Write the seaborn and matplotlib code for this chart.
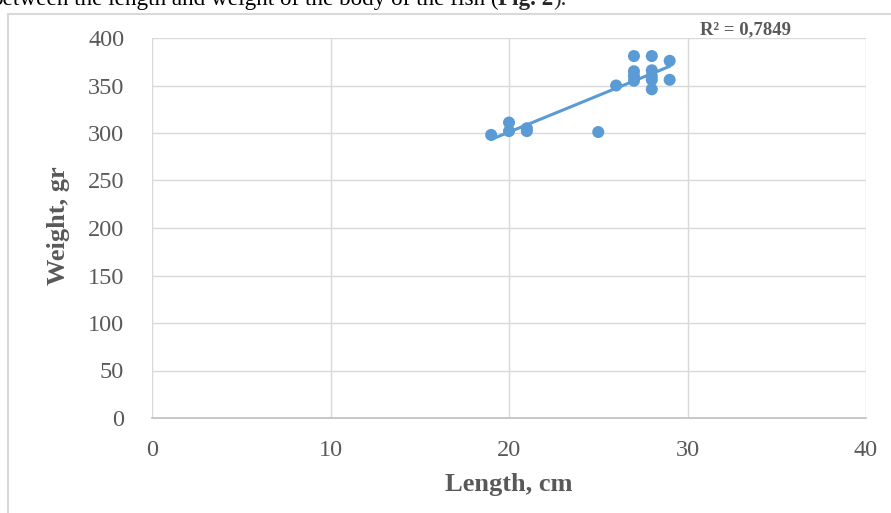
import numpy as np
import pandas as pd
import matplotlib
matplotlib.use("Agg")
import matplotlib.pyplot as plt
from matplotlib.patches import Rectangle
import seaborn as sns

length_cm = [19, 20, 20, 21, 21, 25, 26, 27, 27, 27, 27, 28, 28, 28, 28, 28, 29, 29]
weight_gr = [298, 311, 302, 302, 305, 301, 350, 381, 365, 360, 355, 381, 366, 360, 356, 346, 376, 356]
x_ticks = [0, 10, 20, 30, 40]
y_ticks = [0, 50, 100, 150, 200, 250, 300, 350, 400]
r2_text = "R² = 0,7849"

df = pd.DataFrame({"Length": length_cm, "Weight": weight_gr})

sns.set_theme(style="white")
plt.rcParams['font.family'] = ['Liberation Serif', 'DejaVu Serif']

fig = plt.figure(figsize=(8.91, 5.13), dpi=100)
W, H = 891, 513
ax = fig.add_axes([152 / W, 1 - 418 / H, (866 - 152) / W, (418 - 38) / H])

blue = "#5B9BD5"
grey = "#595959"

sns.regplot(data=df, x="Length", y="Weight", scatter=False, ci=None, ax=ax,
            line_kws={"color": blue, "lw": 2.2})
sns.scatterplot(data=df, x="Length", y="Weight", ax=ax, color=blue, s=75,
                edgecolor="none", zorder=3)

ax.set_xlim(0, 40)
ax.set_ylim(0, 400)
ax.set_xticks(x_ticks)
ax.set_yticks(y_ticks)
ax.grid(True, color="#d9d9d9", lw=1)
ax.set_axisbelow(True)
for s in ["top", "right", "left"]:
    ax.spines[s].set_visible(False)
ax.spines["bottom"].set_color("#bfbfbf")
ax.spines["bottom"].set_linewidth(1.2)
ax.tick_params(axis="both", length=0, labelsize=17.5, colors=grey)
ax.tick_params(axis="x", pad=16)
ax.tick_params(axis="y", pad=20)
ax.set_xlabel("Length, cm", fontsize=19, fontweight="bold", color=grey)
ax.xaxis.set_label_coords(0.5, -(484 - 418) / (418 - 38))
ax.xaxis.label.set_va("center")
ax.set_ylabel("Weight, gr", fontsize=19, fontweight="bold", color=grey)
ax.yaxis.set_label_coords(-(152 - 58) / (866 - 152), (418 - 226) / (418 - 38))
ax.yaxis.label.set_va("center")

fig.text(746 / W, 1 - 30 / H, r2_text, fontsize=13.5, fontweight="bold",
         color=grey, ha="center", va="center")

# outer chart frame
fig.patches.append(Rectangle((8 / W, -0.1), 1.2, 1 - 14 / H + 0.1,
                             transform=fig.transFigure, fill=False,
                             edgecolor="#d9d9d9", lw=1.5))

# caption text from document, partly cut off at top
fig.canvas.draw()
r = fig.canvas.get_renderer()
cap_fs = 24
probe = fig.text(0, 0, "between the length and weight of the body of the fish (Fig. 2).",
                 fontsize=cap_fs)
wpx = probe.get_window_extent(r).width
probe.remove()
cap_fs = cap_fs * 575 / wpx
y_cap = 1 - 5 / H
t1 = fig.text(-9 / W, y_cap, "between the length and weight of the body of the fish (",
              fontsize=cap_fs, color="black", ha="left", va="baseline")
bb = t1.get_window_extent(r)
t2 = fig.text(bb.x1 / W, y_cap, "Fig. 2", fontsize=cap_fs, fontweight="bold",
              ha="left", va="baseline")
bb2 = t2.get_window_extent(r)
fig.text(bb2.x1 / W, y_cap, ").", fontsize=cap_fs, ha="left", va="baseline")

fig.savefig("out.png", dpi=100)
